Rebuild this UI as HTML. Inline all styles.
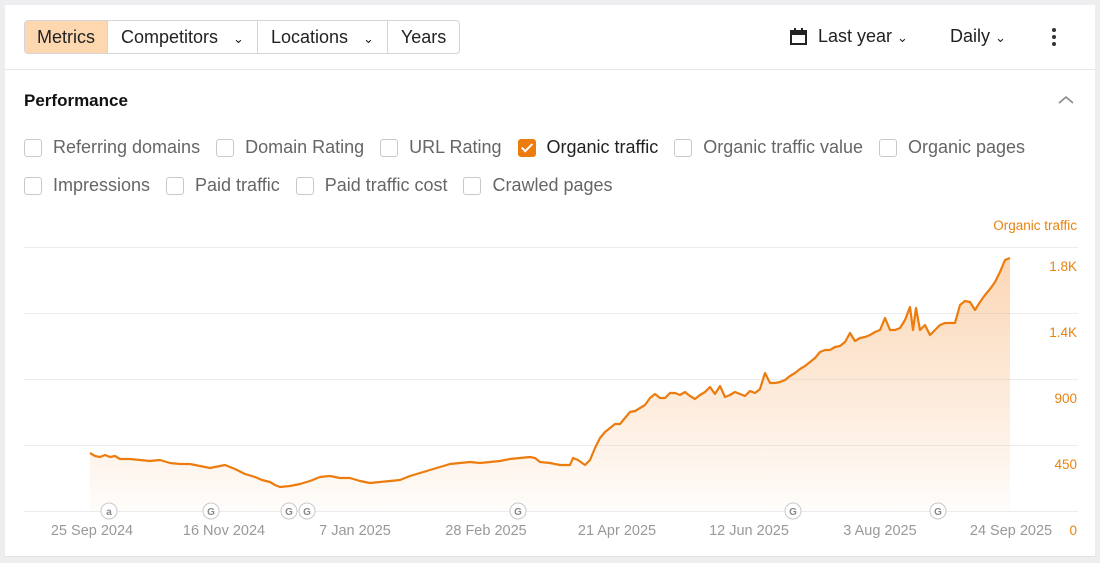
<!DOCTYPE html>
<html><head><style>
body{margin:0;width:1100px;height:563px;background:#eeeef0;font-family:"Liberation Sans",sans-serif;overflow:hidden;position:relative}
.card{position:absolute;left:5px;top:5px;width:1090px;height:551px;background:#fff;border-bottom:1px solid #e2e2e2}
.abs{position:absolute;white-space:nowrap}
.grp{position:absolute;left:24px;top:20px;height:32px;border:1px solid #d5d5d8;border-radius:4px;display:flex;overflow:hidden}
.grp div{padding:0 13px;line-height:32px;font-size:18px;color:#222;border-left:1px solid #d5d5d8}
.grp div:first-child{border-left:none;background:#fcd7b0;padding:0 12px}
.grp small{font-size:13px;margin-left:15px}
.cb{display:inline-flex;align-items:center;font-size:18px;color:#666;margin-right:16px}
.cb i{display:inline-block;width:16px;height:16px;border:1px solid #c9c9cc;border-radius:3px;margin-right:11px}
.cb i.on{background:#ec7c0e;border-color:#ec7c0e;position:relative}
.cb i.on:after{content:"";position:absolute;left:5px;top:1px;width:4px;height:9px;border:solid #fff;border-width:0 2px 2px 0;transform:rotate(45deg)}
</style></head><body>
<div class="card"></div>
<div class="abs" style="left:5px;top:69px;width:1090px;height:1px;background:#e6e6e8"></div>
<div class="grp"><div>Metrics</div><div>Competitors<small>⌄</small></div><div>Locations<small>⌄</small></div><div>Years</div></div>
<svg class="abs" style="left:790px;top:28px" width="18" height="18"><rect x="1" y="3" width="15" height="13" fill="none" stroke="#222" stroke-width="2"/><rect x="1" y="3" width="15" height="4" fill="#222"/><rect x="4" y="0" width="2" height="4" fill="#222"/><rect x="11" y="0" width="2" height="4" fill="#222"/></svg>
<div class="abs" style="left:818px;top:26px;font-size:18px;color:#222">Last year <small style="font-size:13px">⌄</small></div>
<div class="abs" style="left:950px;top:26px;font-size:18px;color:#222">Daily <small style="font-size:13px">⌄</small></div>
<svg class="abs" style="left:1050px;top:28px" width="8" height="20"><circle cx="4" cy="2" r="2" fill="#333"/><circle cx="4" cy="9" r="2" fill="#333"/><circle cx="4" cy="16" r="2" fill="#333"/></svg>
<div class="abs" style="left:24px;top:91px;font-size:17px;font-weight:bold;color:#111">Performance</div>
<svg class="abs" style="left:1058px;top:95px" width="16" height="10"><polyline points="1,8 8,2 15,8" fill="none" stroke="#888" stroke-width="1.6"/></svg>
<div class="abs" style="left:24px;top:137px"><span class="cb"><i></i>Referring domains</span><span class="cb"><i></i>Domain Rating</span><span class="cb"><i></i>URL Rating</span><span class="cb" style="color:#222"><i class="on"></i>Organic traffic</span><span class="cb"><i></i>Organic traffic value</span><span class="cb"><i></i>Organic pages</span></div>
<div class="abs" style="left:24px;top:175px"><span class="cb"><i></i>Impressions</span><span class="cb"><i></i>Paid traffic</span><span class="cb"><i></i>Paid traffic cost</span><span class="cb"><i></i>Crawled pages</span></div>
<svg class="abs" style="left:0;top:0" width="1100" height="563" font-family="Liberation Sans, sans-serif">
<defs><linearGradient id="g" x1="0" y1="0" x2="0" y2="1"><stop offset="0" stop-color="#f6a55c" stop-opacity="0.45"/><stop offset="1" stop-color="#f6a55c" stop-opacity="0.03"/></linearGradient></defs>
<text x="1077" y="230" text-anchor="end" font-size="13.5" fill="#e8830f">Organic traffic</text>
<g stroke="#ececee" stroke-width="1"><line x1="24" x2="1078" y1="247.5" y2="247.5"/><line x1="24" x2="1078" y1="313.5" y2="313.5"/><line x1="24" x2="1078" y1="379.5" y2="379.5"/><line x1="24" x2="1078" y1="445.5" y2="445.5"/><line x1="24" x2="1078" y1="511.5" y2="511.5"/></g>
<g font-size="13.5" fill="#e8830f" text-anchor="end"><text x="1077" y="271">1.8K</text><text x="1077" y="337">1.4K</text><text x="1077" y="403">900</text><text x="1077" y="469">450</text><text x="1077" y="535">0</text></g>
<polygon fill="url(#g)" points="90,511 90,453 95,456 100,457 105,455 110,457 115,456 120,459 130,459 140,460 150,461 160,460 170,463 180,464 190,464 200,466 210,468 220,466 225,465 235,469 245,474 255,477 262,480 270,482 275,485 280,487 290,486 300,484 310,481 320,477 330,476 340,478 350,478 360,481 370,483 380,482 390,481 400,480 410,476 420,473 430,470 440,467 450,464 460,463 470,462 480,463 490,462 500,461 510,459 520,458 530,457 535,458 540,462 550,463 560,465 570,465 573,458 578,460 585,465 590,460 595,448 600,438 605,432 610,428 615,424 620,424 625,418 630,412 635,411 640,408 645,405 650,398 655,394 660,398 665,398 670,393 675,393 680,395 685,392 690,396 695,399 700,395 705,392 710,387 715,394 720,386 725,397 730,395 735,392 740,394 745,396 750,391 755,393 760,389 765,373 770,383 775,383 780,382 785,380 790,376 795,373 800,369 805,366 810,362 815,358 820,352 825,350 830,350 835,347 840,346 845,342 850,333 855,341 860,338 865,337 870,335 875,332 880,330 885,318 890,330 895,330 900,328 905,320 910,307 913,330 916,308 920,330 925,325 930,335 935,330 940,325 945,323 955,323 960,305 965,301 970,302 975,310 980,302 985,295 990,289 995,282 1000,272 1005,260 1010,258 1010,511"/>
<polyline fill="none" stroke="#ec7c0e" stroke-width="2.2" stroke-linejoin="round" points="90,453 95,456 100,457 105,455 110,457 115,456 120,459 130,459 140,460 150,461 160,460 170,463 180,464 190,464 200,466 210,468 220,466 225,465 235,469 245,474 255,477 262,480 270,482 275,485 280,487 290,486 300,484 310,481 320,477 330,476 340,478 350,478 360,481 370,483 380,482 390,481 400,480 410,476 420,473 430,470 440,467 450,464 460,463 470,462 480,463 490,462 500,461 510,459 520,458 530,457 535,458 540,462 550,463 560,465 570,465 573,458 578,460 585,465 590,460 595,448 600,438 605,432 610,428 615,424 620,424 625,418 630,412 635,411 640,408 645,405 650,398 655,394 660,398 665,398 670,393 675,393 680,395 685,392 690,396 695,399 700,395 705,392 710,387 715,394 720,386 725,397 730,395 735,392 740,394 745,396 750,391 755,393 760,389 765,373 770,383 775,383 780,382 785,380 790,376 795,373 800,369 805,366 810,362 815,358 820,352 825,350 830,350 835,347 840,346 845,342 850,333 855,341 860,338 865,337 870,335 875,332 880,330 885,318 890,330 895,330 900,328 905,320 910,307 913,330 916,308 920,330 925,325 930,335 935,330 940,325 945,323 955,323 960,305 965,301 970,302 975,310 980,302 985,295 990,289 995,282 1000,272 1005,260 1010,258"/>
<g font-size="10" fill="#888" text-anchor="middle" font-weight="bold">
<g stroke="#c8c8cc" fill="#fff"><circle cx="109" cy="511" r="8"/><circle cx="211" cy="511" r="8"/><circle cx="289" cy="511" r="8"/><circle cx="307" cy="511" r="8"/><circle cx="518" cy="511" r="8"/><circle cx="793" cy="511" r="8"/><circle cx="938" cy="511" r="8"/></g>
<text x="109" y="515">a</text><text x="211" y="515">G</text><text x="289" y="515">G</text><text x="307" y="515">G</text><text x="518" y="515">G</text><text x="793" y="515">G</text><text x="938" y="515">G</text></g>
<g font-size="14.5" fill="#999" text-anchor="middle"><text x="92" y="535">25 Sep 2024</text><text x="224" y="535">16 Nov 2024</text><text x="355" y="535">7 Jan 2025</text><text x="486" y="535">28 Feb 2025</text><text x="617" y="535">21 Apr 2025</text><text x="749" y="535">12 Jun 2025</text><text x="880" y="535">3 Aug 2025</text><text x="1011" y="535">24 Sep 2025</text></g>
</svg>
</body></html>
